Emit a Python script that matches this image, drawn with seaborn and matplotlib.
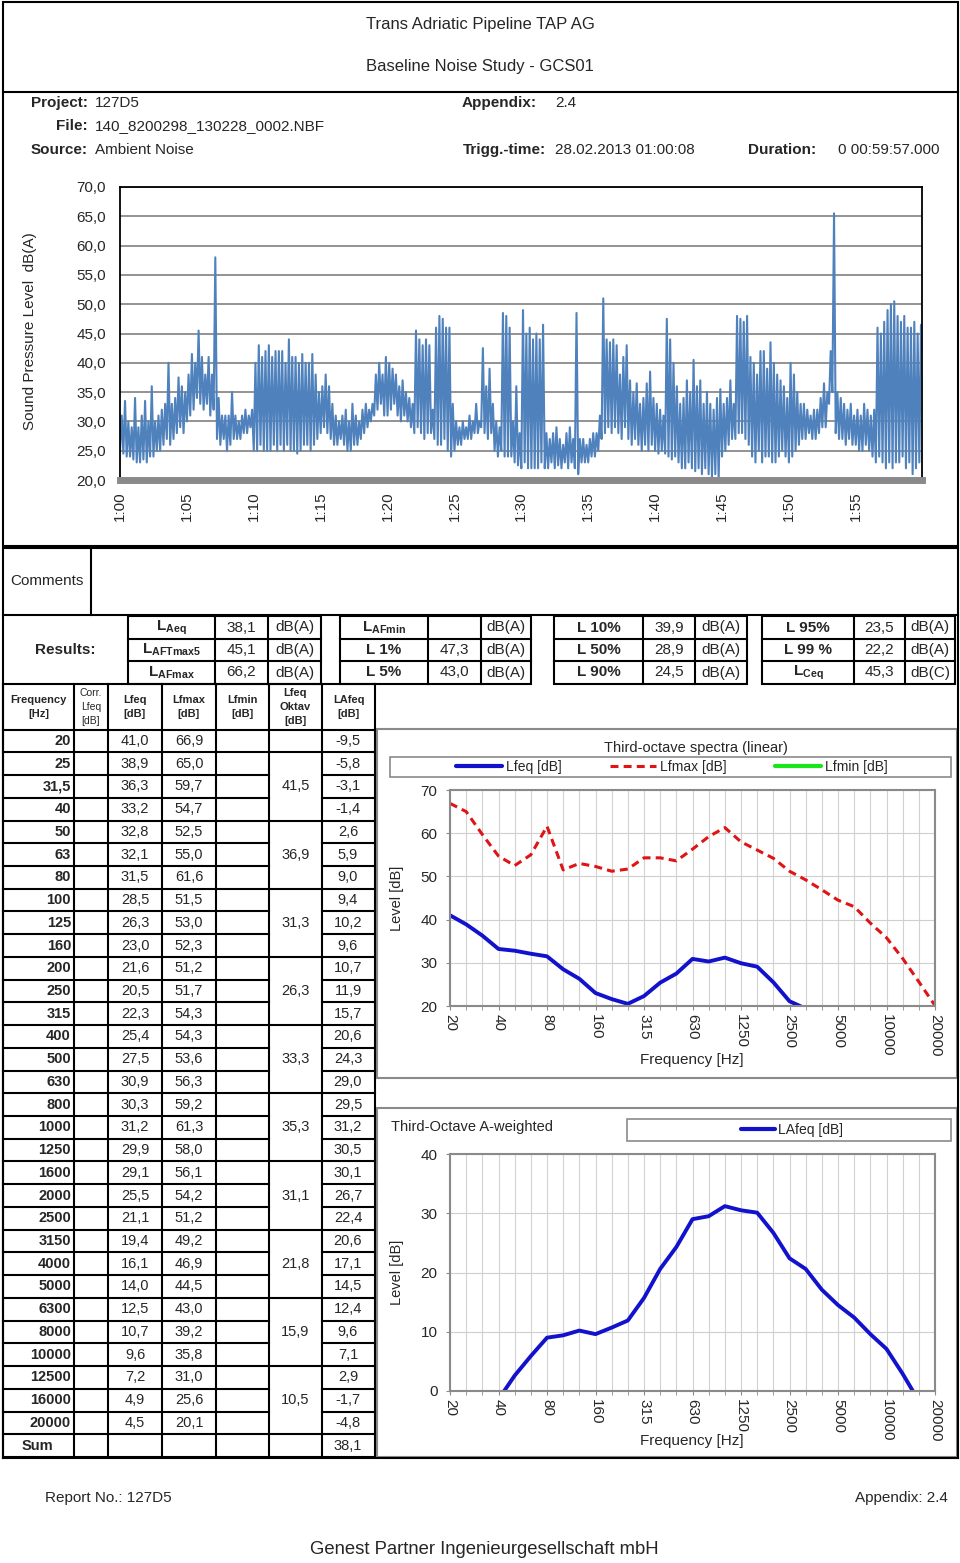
import numpy as np
import pandas as pd
import seaborn as sns
import matplotlib.pyplot as plt
from matplotlib.lines import Line2D
from matplotlib.patches import Rectangle
from matplotlib.ticker import FuncFormatter

W, H = 960, 1563

# header
title_1 = 'Trans Adriatic Pipeline TAP AG'
title_2 = 'Baseline Noise Study - GCS01'
info_left = [('Project:', '127D5'), ('File:', '140_8200298_130228_0002.NBF'), ('Source:', 'Ambient Noise')]
appendix = '2.4'
trigg_time = '28.02.2013 01:00:08'
duration = '0 00:59:57.000'
duration_min = 59.95

# time history, 15 s bins: lowest / highest level in each bin (4 bins per minute)
ts_lo = [25, 24.5, 24, 24, 23.5, 23, 23, 23.5,
         23, 24, 24, 25, 25, 26, 27, 26,
         27, 28, 29, 28, 30, 31, 32, 34,
         33, 32, 33, 31, 32, 27, 26, 27,
         25, 26, 27, 27, 27, 28, 28, 29,
         25, 25, 26, 25, 25, 25, 26, 25,
         26, 25, 26, 25, 25, 24.5, 25, 26,
         26, 25, 26, 27, 28, 29, 28, 27,
         26, 26, 27, 26, 25, 25, 26, 26,
         27, 28, 29, 30, 31, 32, 33, 31,
         31, 32, 33, 31, 30, 31, 30, 29,
         28, 29, 28, 27, 28, 28, 27, 26,
         26, 27, 25, 24, 25, 26, 26, 27,
         27, 27, 28, 28, 29, 28, 27, 28,
         25, 24, 25, 24, 24, 24, 23, 22.5,
         22, 23, 22, 22, 22, 22, 23, 22,
         22, 23, 22, 22.5, 22, 23, 22, 23,
         22, 21, 23, 23, 23, 24, 24, 25,
         27, 28, 29, 28, 29, 28, 27, 29,
         27, 26, 27, 26, 25, 26, 25, 26,
         25, 24.5, 25, 24.5, 24, 23.5, 24, 23,
         22, 22, 23, 22, 21.5, 22, 21, 22,
         21, 20.5, 21, 20, 24, 25, 26, 27,
         27, 28, 28, 27, 26, 24, 23, 25,
         23, 24, 24, 23, 23, 24, 25, 24,
         23, 24, 25, 26, 27, 27, 28, 27,
         27, 28, 29, 29, 33, 35, 28, 27,
         27, 26, 27, 26, 26, 25, 25, 26,
         25, 24, 23, 24, 23, 22, 23, 22,
         23, 23, 24, 22, 23, 21, 22, 23]
ts_hi = [31, 33.5, 30, 29, 34, 29, 31, 33.5,
         30, 36, 30, 31, 32, 33, 40, 33,
         34, 37.5, 36, 35, 38, 41.5, 40, 45.5,
         41, 38, 41, 38, 58, 34, 31, 31,
         31, 35, 31, 30, 31, 32, 31, 32,
         40, 43, 41, 42, 43, 41, 42, 42,
         42, 40, 44, 41, 41, 40, 41.5, 40,
         40, 41.5, 38, 35, 36, 38, 36, 33,
         31, 30, 31, 32, 30, 33, 31, 30,
         32, 33, 32, 33, 38, 40, 38, 41,
         40, 39, 38, 36, 37, 35, 34, 33,
         45.5, 44, 43, 44, 43, 32, 46, 48,
         47.5, 46, 46, 33, 30, 29, 30, 29,
         31, 30, 33, 30, 42.5, 36, 39, 33,
         30, 29, 48.5, 48, 46, 30, 36, 28,
         49, 45, 46, 44, 45, 44, 46.5, 28,
         27, 28, 29, 27, 26, 28, 29, 27,
         48.5, 27, 27, 26, 27, 28, 28, 31,
         51, 44, 43.5, 44, 43, 38, 41, 43,
         37, 35, 36.5, 33, 34, 36.5, 38.5, 34,
         33, 32, 31, 47.5, 44, 40, 36, 33,
         34, 37, 35, 40.5, 36, 37, 33, 35,
         33, 32, 34, 35.5, 33, 34, 37, 33,
         48, 47.5, 47, 48, 41, 40, 38, 42,
         42, 39, 43.5, 40, 38, 37, 36, 34,
         40, 38, 35, 33, 33, 32, 31, 32,
         32, 34, 36.5, 35, 42, 65.5, 35, 34,
         33, 32, 33, 31, 32, 31, 33, 32,
         31, 32, 46, 45, 47, 49, 50, 50.5,
         48, 47, 48, 46, 46, 47, 45, 46.5]
tick_minutes = [0, 5, 10, 15, 20, 25, 30, 35, 40, 45, 50, 55]
tick_labels = ['1:00', '1:05', '1:10', '1:15', '1:20', '1:25', '1:30', '1:35', '1:40', '1:45', '1:50', '1:55']
ts_ylabel = 'Sound Pressure Level  dB(A)'

# results block
res_labels = [[r'$\mathbf{L_{Aeq}}$', r'$\mathbf{L_{AFTmax5}}$', r'$\mathbf{L_{AFmax}}$'],
              [r'$\mathbf{L_{AFmin}}$', 'L 1%', 'L 5%'],
              ['L 10%', 'L 50%', 'L 90%'],
              ['L 95%', 'L 99 %', r'$\mathbf{L_{Ceq}}$']]
res_values = [[38.1, 45.1, 66.2], [None, 47.3, 43.0], [39.9, 28.9, 24.5], [23.5, 22.2, 45.3]]
res_units = [['dB(A)'] * 3, ['dB(A)'] * 3, ['dB(A)'] * 3, ['dB(A)', 'dB(A)', 'dB(C)']]

# third-octave table
freq_labels = ['20', '25', '31,5', '40', '50', '63', '80', '100', '125', '160', '200', '250', '315',
               '400', '500', '630', '800', '1000', '1250', '1600', '2000', '2500', '3150', '4000',
               '5000', '6300', '8000', '10000', '12500', '16000', '20000']
lfeq = [41.0, 38.9, 36.3, 33.2, 32.8, 32.1, 31.5, 28.5, 26.3, 23.0, 21.6, 20.5, 22.3, 25.4, 27.5, 30.9,
        30.3, 31.2, 29.9, 29.1, 25.5, 21.1, 19.4, 16.1, 14.0, 12.5, 10.7, 9.6, 7.2, 4.9, 4.5]
lfmax = [66.9, 65.0, 59.7, 54.7, 52.5, 55.0, 61.6, 51.5, 53.0, 52.3, 51.2, 51.7, 54.3, 54.3, 53.6, 56.3,
         59.2, 61.3, 58.0, 56.1, 54.2, 51.2, 49.2, 46.9, 44.5, 43.0, 39.2, 35.8, 31.0, 25.6, 20.1]
lafeq = [-9.5, -5.8, -3.1, -1.4, 2.6, 5.9, 9.0, 9.4, 10.2, 9.6, 10.7, 11.9, 15.7, 20.6, 24.3, 29.0,
         29.5, 31.2, 30.5, 30.1, 26.7, 22.4, 20.6, 17.1, 14.5, 12.4, 9.6, 7.1, 2.9, -1.7, -4.8]
oktav = [41.5, 36.9, 31.3, 26.3, 33.3, 35.3, 31.1, 21.8, 15.9, 10.5]
lafeq_sum = 38.1
header_cells = [('Frequency\n[Hz]', 'bold', 8), ('Corr.\nLfeq\n[dB]', 'normal', 7.5),
                ('Lfeq\n[dB]', 'bold', 8), ('Lfmax\n[dB]', 'bold', 8), ('Lfmin\n[dB]', 'bold', 8),
                ('Lfeq\nOktav\n[dB]', 'bold', 8), ('LAfeq\n[dB]', 'bold', 8)]

footer_left = 'Report No.: 127D5'
footer_right = 'Appendix: 2.4'
footer_company = 'Genest Partner Ingenieurgesellschaft mbH'

BLUE_TS = '#4F81BD'
BLUE = '#1212CC'
RED = '#E01414'
GREEN = '#19E619'
FRAME = '#8a8a8a'

sns.set_style('white')
plt.rcParams['font.family'] = ['Liberation Sans', 'DejaVu Sans']
plt.rcParams['mathtext.fontset'] = 'custom'
plt.rcParams['mathtext.rm'] = 'Liberation Sans'
plt.rcParams['mathtext.bf'] = 'Liberation Sans:bold'

fig = plt.figure(figsize=(W / 100, H / 100), dpi=100)
page = fig.add_axes([0, 0, 1, 1])
page.set_xlim(0, W)
page.set_ylim(H, 0)
page.axis('off')


def line(xs, ys, color='black', lw=1.5):
    page.plot(xs, ys, color=color, lw=lw, solid_capstyle='projecting')


def box(x0, y0, x1, y1, color='black', lw=1.5):
    page.add_patch(Rectangle((x0, y0), x1 - x0, y1 - y0, fill=False, ec=color, lw=lw))


def put(x, y, s, ha='center', size=11, weight='normal', **kw):
    page.text(x, y, s, ha=ha, va='center', fontsize=size, fontweight=weight, **kw)


def px_axes(x0, y0, x1, y1):
    return fig.add_axes([x0 / W, 1 - y1 / H, (x1 - x0) / W, (y1 - y0) / H])


def comma(v):
    return f'{v:.1f}'.replace('.', ',')


# ---- header box
box(3, 2, 958, 546)
line([3, 958], [92, 92])
put(480, 24, title_1, size=12)
put(480, 67, title_2, size=12)
for (lab, val), y in zip(info_left, [103, 126, 150]):
    put(88, y, lab, ha='right', weight='bold')
    put(95, y, val, ha='left')
put(462, 103, 'Appendix:', ha='left', weight='bold')
put(555, 103, appendix, ha='left')
put(463, 150, 'Trigg.-time:', ha='left', weight='bold')
put(555, 150, trigg_time, ha='left')
put(748, 150, 'Duration:', ha='left', weight='bold')
put(838, 150, duration, ha='left')

# ---- time history
ax_t = px_axes(120, 187, 922, 480)
t = np.arange(2 * len(ts_lo)) * 0.125
lev = np.column_stack([ts_lo, ts_hi]).ravel()
sns.lineplot(x=t, y=lev, ax=ax_t, color=BLUE_TS, lw=1.5, estimator=None)
ax_t.set_xlim(0, duration_min)
ax_t.set_ylim(20, 70)
ax_t.set_yticks(np.arange(20, 71, 5))
ax_t.yaxis.set_major_formatter(FuncFormatter(lambda val, p: comma(val)))
ax_t.set_xticks(tick_minutes)
ax_t.set_xticklabels(tick_labels, rotation=90)
ax_t.grid(axis='y', color=FRAME, lw=1.3)
ax_t.set_axisbelow(True)
for s in ['top', 'right', 'left']:
    ax_t.spines[s].set_color('black')
    ax_t.spines[s].set_linewidth(1.3)
ax_t.spines['bottom'].set_color(FRAME)
ax_t.spines['bottom'].set_linewidth(5)
ax_t.tick_params(axis='y', length=0, labelsize=11, pad=10)
ax_t.tick_params(axis='x', length=0, labelsize=11, pad=8)
ax_t.set_xlabel('')
ax_t.set_ylabel('')
put(30, 331, ts_ylabel, rotation=90)

# ---- comments
box(3, 548, 958, 615)
line([91, 91], [548, 615])
put(10, 581, 'Comments', ha='left')

# ---- results
line([3, 3], [615, 1458])
line([958, 958], [615, 1458])
line([3, 958], [1458, 1458])
put(65, 650, 'Results:', weight='bold')
res_y = [616, 639, 661, 684]
block_x = [(128, 215, 268, 321), (340, 428, 481, 531), (554, 643, 695, 747), (762, 854, 905, 955)]
for b, xs in enumerate(block_x):
    box(xs[0], 616, xs[3], 684)
    for xx in xs[1:3]:
        line([xx, xx], [616, 684])
    for yy in res_y[1:3]:
        line([xs[0], xs[3]], [yy, yy])
    for r in range(3):
        yc = (res_y[r] + res_y[r + 1]) / 2
        put((xs[0] + xs[1]) / 2, yc, res_labels[b][r], weight='bold')
        if res_values[b][r] is not None:
            put((xs[1] + xs[2]) / 2, yc, comma(res_values[b][r]))
        put((xs[2] + xs[3]) / 2, yc, res_units[b][r])

# ---- third-octave table
cols = [3, 74, 108, 162, 216, 269, 322, 375]
row0, rh = 729.6, 22.73
n_rows = len(freq_labels) + 1
bottom = row0 + n_rows * rh
line([3, 375], [684, 684])
for x in cols:
    line([x, x], [684, bottom])
for c, (s, w, fs) in enumerate(header_cells):
    put((cols[c] + cols[c + 1]) / 2, 707, s, size=fs, weight=w, linespacing=1.45)
line([3, 375], [row0, row0])
for i in range(1, n_rows + 1):
    y = row0 + i * rh
    line([3, 269], [y, y])
    line([322, 375], [y, y])
    if (i - 1) % 3 == 0 or i == n_rows:
        line([269, 322], [y, y])
for i, f in enumerate(freq_labels):
    yc = row0 + (i + 0.5) * rh
    put(71, yc, f, ha='right', weight='bold', size=10.5)
    put(135, yc, comma(lfeq[i]), size=10.5)
    put(189, yc, comma(lfmax[i]), size=10.5)
    put(348, yc, comma(lafeq[i]), size=10.5)
for g, val in enumerate(oktav):
    yc = row0 + (1 + 3 * g + 1.5) * rh
    put(295.5, yc, comma(val), size=10.5)
ys = row0 + (n_rows - 0.5) * rh
put(22, ys, 'Sum', ha='left', weight='bold', size=10.5)
put(348, ys, comma(lafeq_sum), size=10.5)

# ---- spectra charts
box(377, 729, 957, 1078, color=FRAME)
box(377, 1108, 957, 1457, color=FRAME)
pos = np.arange(len(freq_labels))
spec = pd.DataFrame({'pos': pos, 'Lfeq': lfeq, 'Lfmax': lfmax, 'LAfeq': lafeq})

ax1 = px_axes(450, 790, 935, 1006)
sns.lineplot(data=spec, x='pos', y='Lfmax', ax=ax1, color=RED, lw=2.2, linestyle=(0, (2.6, 1.7)))
sns.lineplot(data=spec, x='pos', y='Lfeq', ax=ax1, color=BLUE, lw=2.8)

ax2 = px_axes(450, 1154, 935, 1391)
sns.lineplot(data=spec, x='pos', y='LAfeq', ax=ax2, color=BLUE, lw=2.8)

for ax, ylo, yhi in [(ax1, 20, 70), (ax2, 0, 40)]:
    ax.set_xlim(0, len(freq_labels) - 1)
    ax.set_ylim(ylo, yhi)
    ax.set_yticks(np.arange(ylo, yhi + 1, 10))
    ax.set_xticks(pos[::3])
    ax.set_xticklabels(freq_labels[::3], rotation=-90)
    ax.set_xticks(pos, minor=True)
    ax.grid(which='both', axis='x', color='#d2d2d2', lw=0.8)
    ax.grid(which='major', axis='y', color='#cfcfcf', lw=0.8)
    ax.set_axisbelow(True)
    for s in ax.spines.values():
        s.set_color(FRAME)
        s.set_linewidth(1.5)
    ax.tick_params(axis='both', which='both', direction='out', length=3, color=FRAME,
                   bottom=True, left=True, labelsize=11)
    ax.tick_params(axis='y', pad=6)
    ax.tick_params(axis='x', pad=3)
    ax.set_xlabel('')
    ax.set_ylabel('')
    ax.text(-0.109, 0.5, 'Level [dB]', transform=ax.transAxes, rotation=90,
            ha='center', va='center', fontsize=10.5)

put(692, 1060, 'Frequency [Hz]', size=11)
put(692, 1441, 'Frequency [Hz]', size=11)
put(696, 748, 'Third-octave spectra (linear)', size=10.5)
put(391, 1127, 'Third-Octave A-weighted', ha='left', size=10.5)

h1 = [Line2D([], [], color=BLUE, lw=3),
      Line2D([], [], color=RED, lw=2.2, linestyle=(0, (2.6, 1.7))),
      Line2D([], [], color=GREEN, lw=3)]
box(390, 757, 951, 777, color=FRAME, lw=1.2)
fig.legend(h1, ['Lfeq [dB]', 'Lfmax [dB]', 'Lfmin [dB]'], loc='center',
           bbox_to_anchor=(672 / W, 1 - 767 / H), ncol=3, frameon=False, fontsize=10,
           handlelength=3.3, handletextpad=0.3, columnspacing=3.5)
box(627, 1119, 951, 1141, color=FRAME, lw=1.2)
fig.legend([Line2D([], [], color=BLUE, lw=3)], ['LAfeq [dB]'], loc='center',
           bbox_to_anchor=(792 / W, 1 - 1130 / H), frameon=False, fontsize=10,
           handlelength=2.5, handletextpad=0.2)

# ---- footer
put(45, 1498, footer_left, ha='left')
put(948, 1498, footer_right, ha='right')
put(484, 1550, footer_company, size=13.3)

fig.savefig('out.png', dpi=100)
